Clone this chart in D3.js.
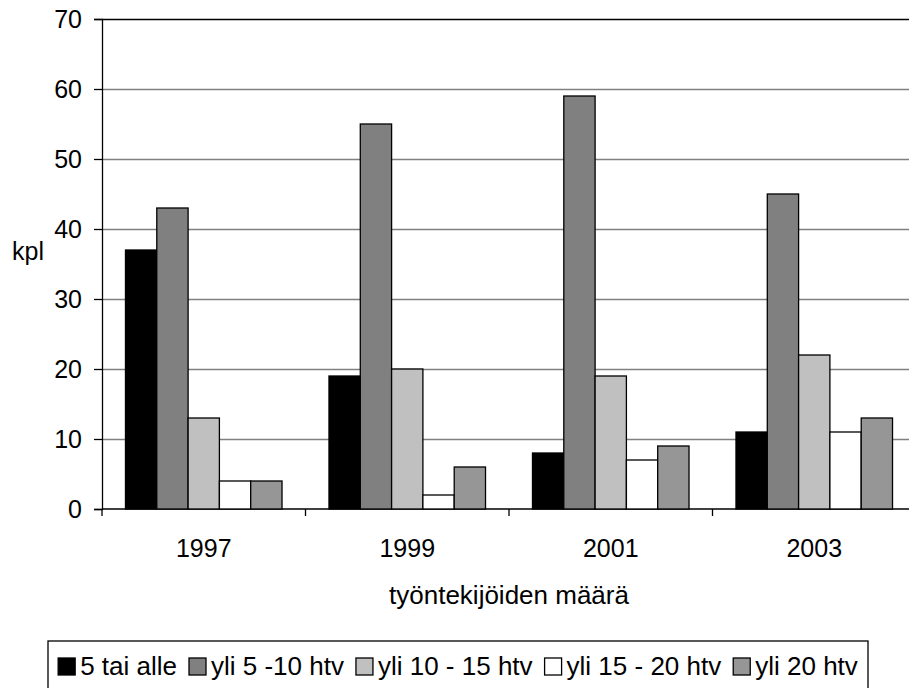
<!DOCTYPE html>
<html>
<head>
<meta charset="utf-8">
<script src="https://cdn.jsdelivr.net/npm/d3@7"></script>
<style>
  body { margin: 0; background: #fff; }
  text { font-family: "Liberation Sans", Arial, sans-serif; fill: #000; }
</style>
</head>
<body>
<script>
// data
var years = ["1997", "1999", "2001", "2003"];
var seriesNames = ["5 tai alle", "yli 5 -10 htv", "yli 10 - 15 htv", "yli 15 - 20 htv", "yli 20 htv"];
var s1 = [37, 19, 8, 11];
var s2 = [43, 55, 59, 45];
var s3 = [13, 20, 19, 22];
var s4 = [4, 2, 7, 11];
var s5 = [4, 6, 9, 13];
var yTicks = [0, 10, 20, 30, 40, 50, 60, 70];

var seriesValues = [s1, s2, s3, s4, s5];
var colors = ["#000000", "#808080", "#c0c0c0", "#ffffff", "#969696"];

var width = 909, height = 688;
var plotLeft = 102, plotRight = 916, plotTop = 19, plotBottom = 509;
var fontSize = 25;

var svg = d3.select("body").append("svg")
    .attr("width", width)
    .attr("height", height);

var x0 = d3.scaleBand().domain(years).range([plotLeft, plotRight]).padding(0);
var x1 = d3.scaleBand().domain(d3.range(seriesNames.length))
    .range([0, x0.bandwidth()])
    .paddingInner(0)
    .paddingOuter(0.75);
var y = d3.scaleLinear().domain([0, 70]).range([plotBottom, plotTop]);

// gridlines
svg.append("g")
    .selectAll("line")
    .data(yTicks.filter(function (d) { return d > 0; }))
    .enter().append("line")
    .attr("x1", plotLeft).attr("x2", width)
    .attr("y1", function (d) { return Math.round(y(d)) + 0.5; })
    .attr("y2", function (d) { return Math.round(y(d)) + 0.5; })
    .style("stroke", function (d) { return d === 70 ? "#000" : "#808080"; })
    .style("stroke-width", 1.5);

// y axis
var yAxis = d3.axisLeft(y).tickValues(yTicks).tickSize(8).tickPadding(12);
var gy = svg.append("g")
    .attr("transform", "translate(" + plotLeft + ",0)")
    .call(yAxis);
gy.select(".domain").style("stroke", "#000").style("stroke-width", 1.3);
gy.selectAll(".tick line").style("stroke", "#000").style("stroke-width", 1.3);
gy.selectAll("text").style("font-size", fontSize + "px")
    .style("font-family", "Liberation Sans, Arial, sans-serif")
    .style("fill", "#000");

// x axis baseline + ticks at category boundaries
svg.append("line")
    .attr("x1", plotLeft).attr("x2", width)
    .attr("y1", y(0)).attr("y2", y(0))
    .style("stroke", "#000").style("stroke-width", 1.3);
var bounds = years.map(function (d) { return x0(d); }).concat([plotRight]);
svg.append("g").selectAll("line")
    .data(bounds)
    .enter().append("line")
    .attr("x1", function (d) { return d; })
    .attr("x2", function (d) { return d; })
    .attr("y1", y(0)).attr("y2", y(0) + 7)
    .style("stroke", "#000").style("stroke-width", 1.3);

svg.append("g").selectAll("text")
    .data(years)
    .enter().append("text")
    .attr("x", function (d) { return x0(d) + x0.bandwidth() / 2; })
    .attr("y", 557)
    .attr("text-anchor", "middle")
    .style("font-size", fontSize + "px")
    .text(function (d) { return d; });

// bars
seriesValues.forEach(function (vals, i) {
    svg.append("g").selectAll("rect")
        .data(vals)
        .enter().append("rect")
        .attr("x", function (d, j) { return x0(years[j]) + x1(i); })
        .attr("y", function (d) { return y(d); })
        .attr("width", x1.bandwidth())
        .attr("height", function (d) { return y(0) - y(d); })
        .style("fill", colors[i])
        .style("stroke", "#000")
        .style("stroke-width", 1.3);
});

// axis titles
svg.append("text")
    .attr("x", 12).attr("y", 260)
    .style("font-size", fontSize + "px")
    .text("kpl");

svg.append("text")
    .attr("x", (plotLeft + plotRight) / 2).attr("y", 604)
    .attr("text-anchor", "middle")
    .style("font-size", "26px")
    .text("työntekijöiden määrä");

// legend
var legendLeft = 48, legendRight = 868, legendTop = 641;
svg.append("rect")
    .attr("x", legendLeft).attr("y", legendTop)
    .attr("width", legendRight - legendLeft).attr("height", 80)
    .style("fill", "#fff").style("stroke", "#000").style("stroke-width", 1.3);

var sw = 17, gapAfterSwatch = 5, gapAfterText = 12;
var legend = svg.append("g");
var items = legend.selectAll("g")
    .data(seriesNames)
    .enter().append("g");
items.append("rect")
    .attr("width", sw).attr("height", sw)
    .attr("y", 658)
    .style("fill", function (d, i) { return colors[i]; })
    .style("stroke", "#000").style("stroke-width", 1.3);
items.append("text")
    .attr("x", sw + gapAfterSwatch)
    .attr("y", 675)
    .style("font-size", "26px")
    .text(function (d) { return d; });

var total = 0, widths = [];
items.select("text").each(function () {
    var w = this.getComputedTextLength();
    widths.push(w);
    total += sw + gapAfterSwatch + w;
});
total += gapAfterText * (seriesNames.length - 1);
var xPos = (legendLeft + legendRight) / 2 - total / 2;
items.attr("transform", function (d, i) {
    var t = "translate(" + xPos + ",0)";
    xPos += sw + gapAfterSwatch + widths[i] + gapAfterText;
    return t;
});
</script>
</body>
</html>
